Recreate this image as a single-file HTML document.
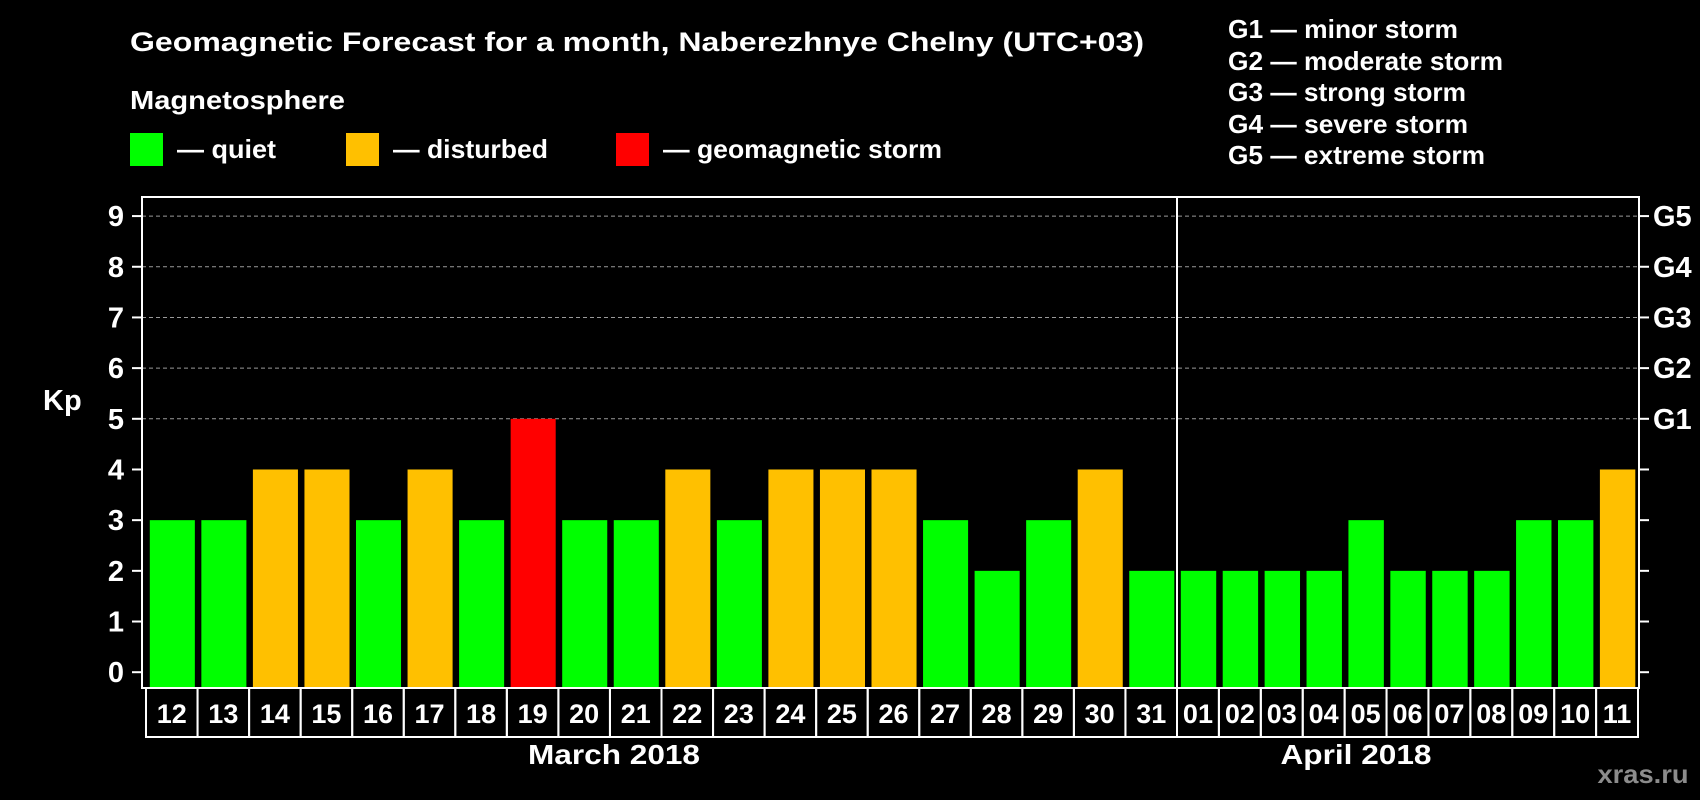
<!DOCTYPE html>
<html><head><meta charset="utf-8"><style>
html,body{margin:0;padding:0;background:#000;}
svg{display:block;font-family:"Liberation Sans",Arial,sans-serif;font-weight:bold;}
</style></head><body>
<svg id="chart" width="1700" height="800" viewBox="0 0 1700 800" xmlns="http://www.w3.org/2000/svg">
<rect width="1700" height="800" fill="#000"/>
<text x="130" y="51" fill="#fff" font-size="27" textLength="1014" lengthAdjust="spacingAndGlyphs">Geomagnetic Forecast for a month, Naberezhnye Chelny (UTC+03)</text>
<text x="130" y="109" fill="#fff" font-size="26" textLength="215" lengthAdjust="spacingAndGlyphs">Magnetosphere</text>
<g><rect x="130" y="133" width="33" height="33" fill="#00ff00"/><text x="177" y="158" fill="#fff" font-size="26" textLength="99" lengthAdjust="spacingAndGlyphs">— quiet</text></g>
<g><rect x="346" y="133" width="33" height="33" fill="#ffc000"/><text x="393" y="158" fill="#fff" font-size="26" textLength="155" lengthAdjust="spacingAndGlyphs">— disturbed</text></g>
<g><rect x="616" y="133" width="33" height="33" fill="#ff0000"/><text x="663" y="158" fill="#fff" font-size="26" textLength="279" lengthAdjust="spacingAndGlyphs">— geomagnetic storm</text></g>
<g fill="#fff" font-size="26">
<text x="1228" y="38" textLength="230" lengthAdjust="spacingAndGlyphs">G1 — minor storm</text>
<text x="1228" y="70" textLength="275" lengthAdjust="spacingAndGlyphs">G2 — moderate storm</text>
<text x="1228" y="101" textLength="238" lengthAdjust="spacingAndGlyphs">G3 — strong storm</text>
<text x="1228" y="133" textLength="240" lengthAdjust="spacingAndGlyphs">G4 — severe storm</text>
<text x="1228" y="164" textLength="257" lengthAdjust="spacingAndGlyphs">G5 — extreme storm</text>
</g>
<text x="43" y="410" fill="#fff" font-size="29">Kp</text>
<g id="plot"></g>
<text x="614" y="764" fill="#fff" font-size="28" text-anchor="middle" textLength="172" lengthAdjust="spacingAndGlyphs">March 2018</text>
<text x="1356" y="764" fill="#fff" font-size="28" text-anchor="middle" textLength="151" lengthAdjust="spacingAndGlyphs">April 2018</text>
<text x="1643" y="783" fill="#8c8c8c" font-size="26" text-anchor="middle" textLength="91" lengthAdjust="spacingAndGlyphs">xras.ru</text>
</svg>
<script>
const marchDays = ["12","13","14","15","16","17","18","19","20","21","22","23","24","25","26","27","28","29","30","31"];
const marchKp = [3,3,4,4,3,4,3,5,3,3,4,3,4,4,4,3,2,3,4,2];
const aprilDays = ["01","02","03","04","05","06","07","08","09","10","11"];
const aprilKp = [2,2,2,2,3,2,2,2,3,3,4];
const yTicks = [0,1,2,3,4,5,6,7,8,9];
const gLabels = ["G1","G2","G3","G4","G5"];

const NS = "http://www.w3.org/2000/svg";
const plot = document.getElementById("plot");
const L = 142, R = 1639, T = 197, B = 688, DIV = 1177, LB = 737;
const y = v => 672.2 - v * 50.68;
function mk(tag, attrs, parent) {
  const e = document.createElementNS(NS, tag);
  for (const k in attrs) e.setAttribute(k, attrs[k]);
  (parent || plot).appendChild(e);
  return e;
}
function color(v) { return v >= 5 ? "#ff0000" : (v >= 4 ? "#ffc000" : "#00ff00"); }

for (let v = 5; v <= 9; v++) {
  const g = mk("line", {x1: L, x2: R, y1: y(v), y2: y(v), stroke: "#9a9a9a", "stroke-width": 1, "stroke-dasharray": "4,3"});
  
  
}
yTicks.forEach(v => {
  const t = mk("line", {x1: 132, x2: L, y1: y(v), y2: y(v), stroke: "#fff", "stroke-width": 2});
  
  
  const rt = mk("line", {x1: R, x2: R + 10, y1: y(v), y2: y(v), stroke: "#fff", "stroke-width": 2});
  
  
  const tx = mk("text", {x: 124, y: y(v) + 10, fill: "#fff", "font-size": 29, "text-anchor": "end"});
  tx.textContent = v;
  
  
});
gLabels.forEach((g, i) => {
  const tx = mk("text", {x: 1653, y: y(5 + i) + 10, fill: "#fff", "font-size": 29});
  tx.textContent = g;
  
  
});

function drawSection(days, vals, x0, x1, key) {
  const w = (x1 - x0) / days.length;
  days.forEach((d, i) => {
    const cx = x0 + i * w;
    const v = vals[i];
    const b = mk("rect", {x: cx + 3.8, y: y(v), width: w - 6.5, height: B - y(v), fill: color(v)});
    
    
    const c = mk("rect", {x: cx, y: B, width: w, height: LB - B, fill: "none", stroke: "#fff", "stroke-width": 2});
    
    
    const t = mk("text", {x: cx + w / 2, y: B + 35, fill: "#fff", "font-size": 27, "text-anchor": "middle"});
    t.textContent = d;
    
    
  });
}
drawSection(marchDays, marchKp, 146, DIV, "march");
drawSection(aprilDays, aprilKp, DIV, 1638, "april");

const frame = mk("rect", {x: L, y: T, width: R - L, height: B - T, fill: "none", stroke: "#fff", "stroke-width": 2});


const dv = mk("line", {x1: DIV, x2: DIV, y1: T, y2: LB, stroke: "#fff", "stroke-width": 2});


</script>
</body></html>
